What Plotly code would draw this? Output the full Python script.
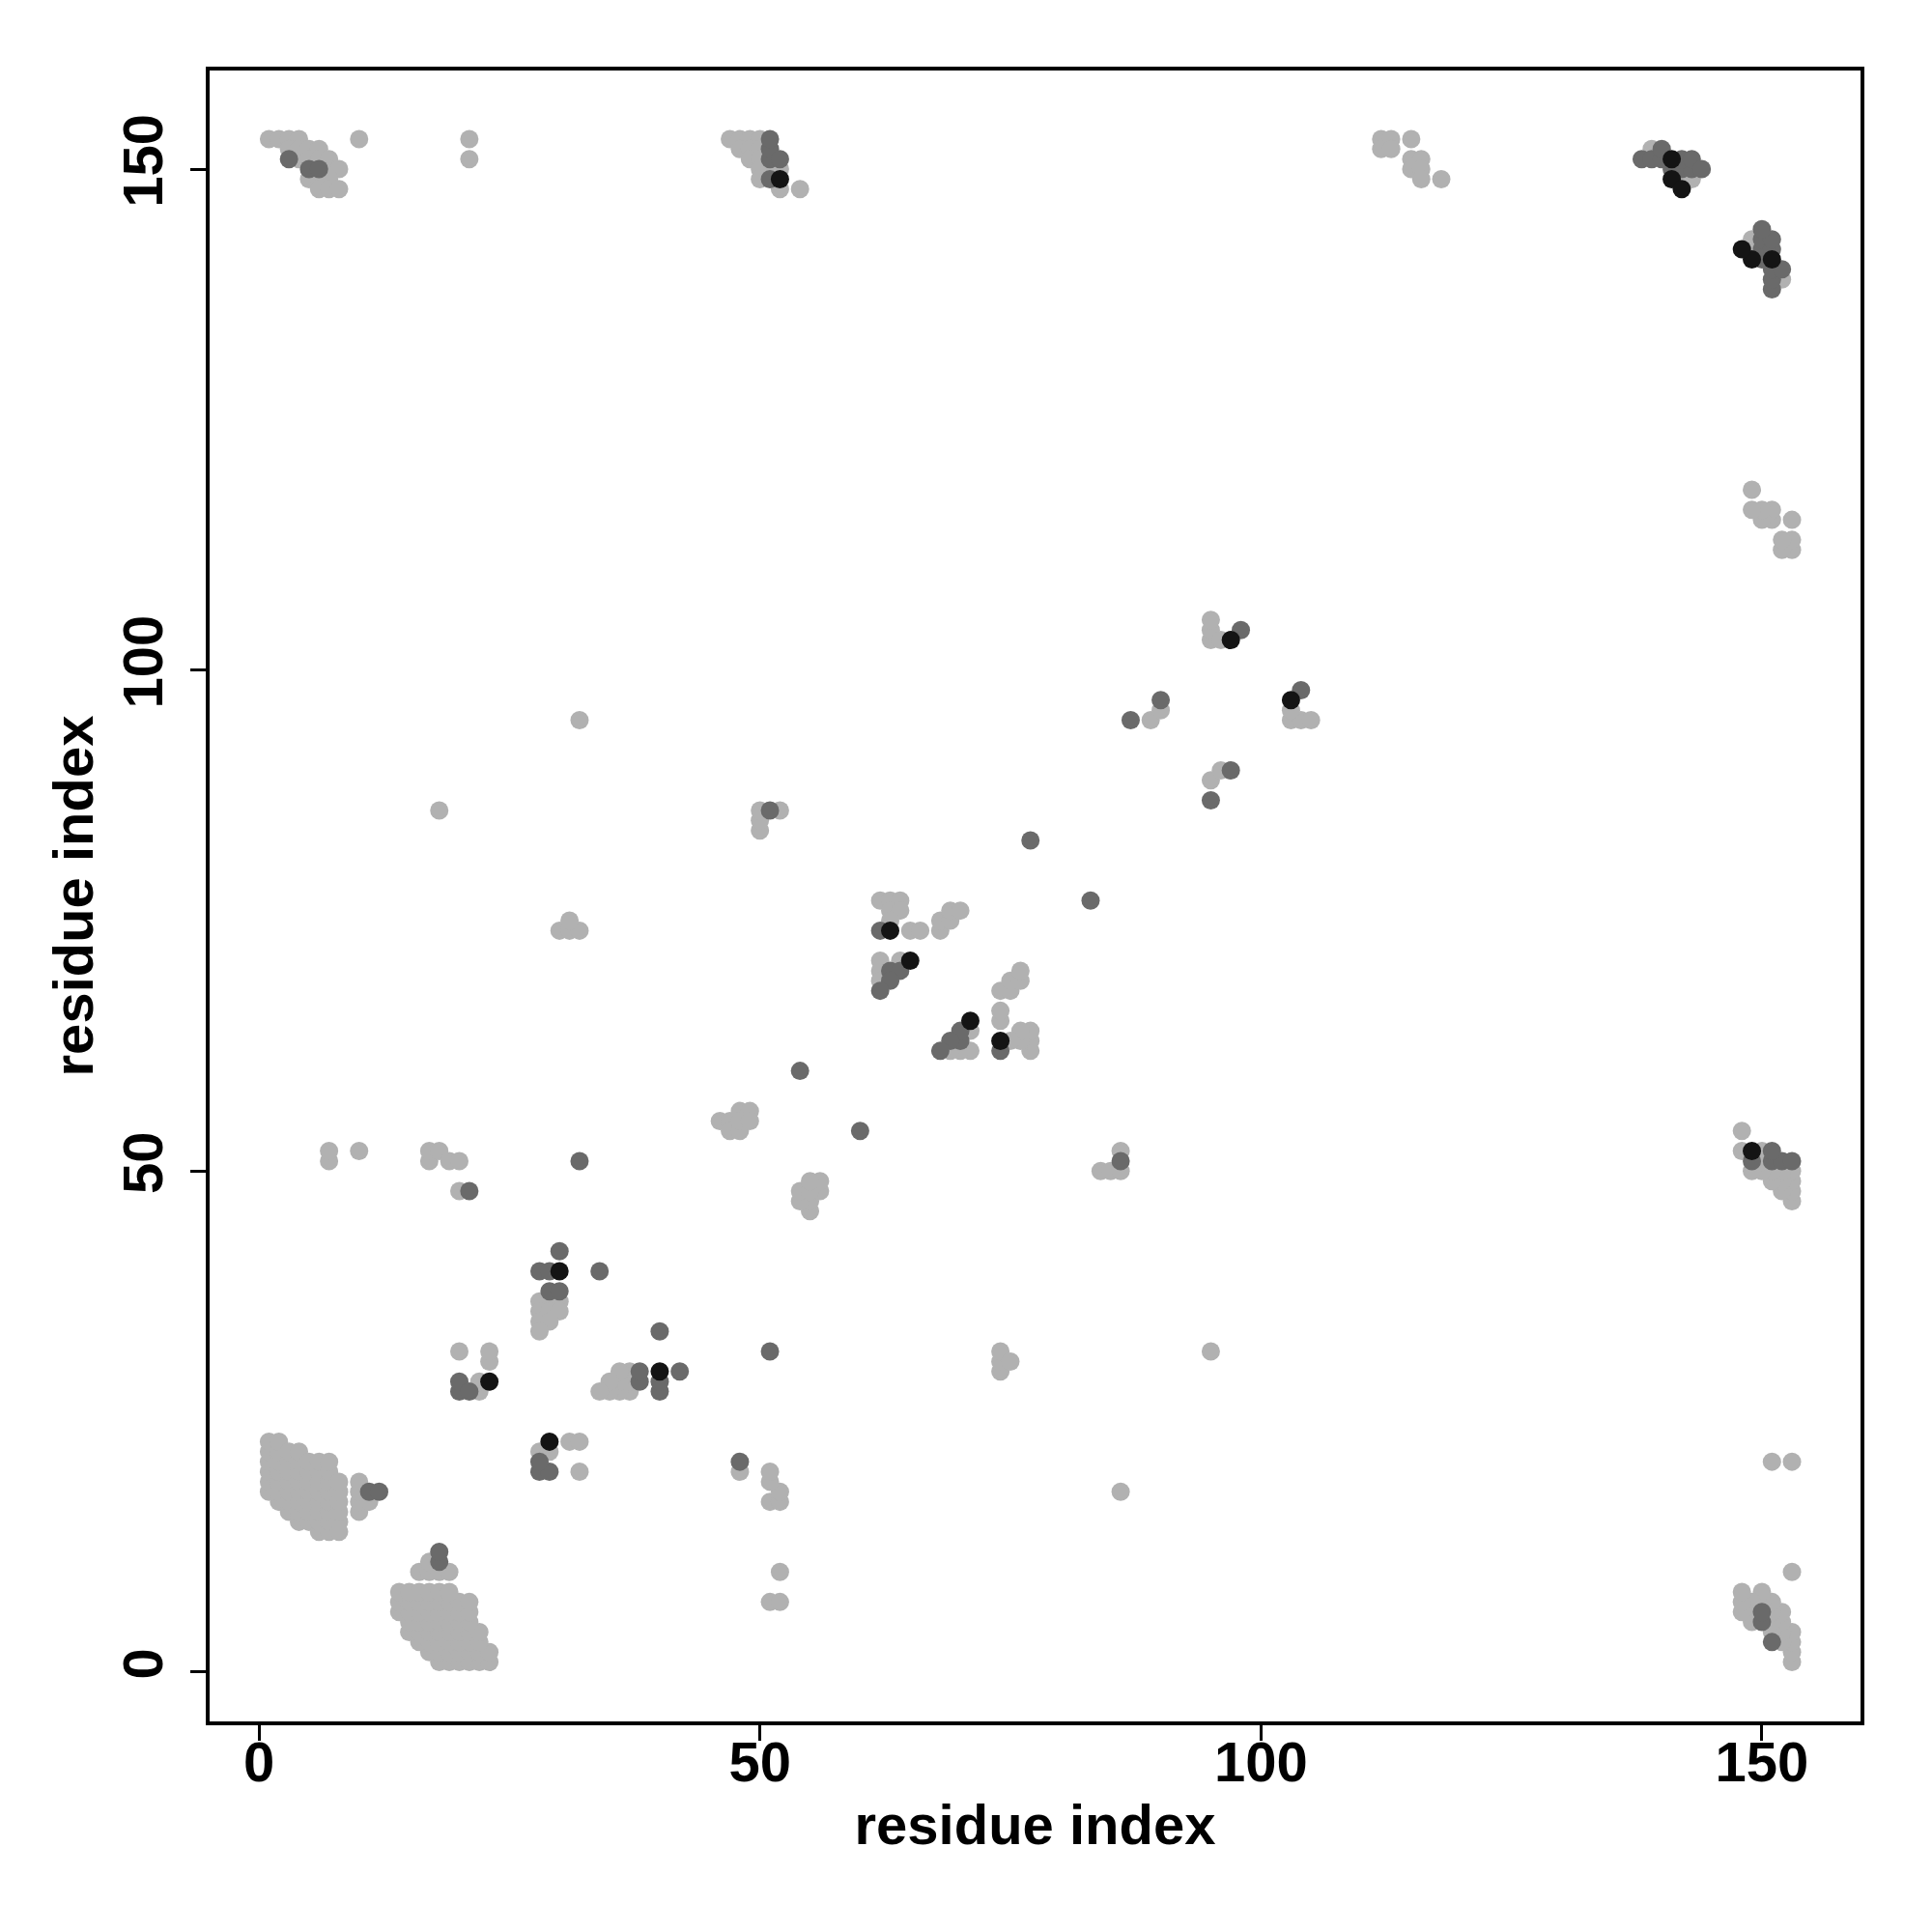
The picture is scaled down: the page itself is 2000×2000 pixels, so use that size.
import plotly.graph_objects as go

# contacts (residue a < residue b); the map is symmetric, each contact is drawn at (a,b) and (b,a)
light_pairs = [
    (1,18),(1,19),(1,20),(1,21),(1,22),(1,23),
    (2,17),(2,18),(2,19),(2,20),(2,21),(2,22),(2,23),
    (3,16),(3,17),(3,18),(3,19),(3,20),(3,21),(3,22),
    (4,15),(4,16),(4,17),(4,18),(4,19),(4,20),(4,21),(4,22),
    (5,15),(5,16),(5,17),(5,18),(5,19),(5,20),(5,21),
    (6,14),(6,15),(6,16),(6,17),(6,18),(6,19),(6,20),(6,21),
    (7,14),(7,15),(7,16),(7,17),(7,18),(7,19),(7,20),(7,21),
    (8,14),(8,15),(8,16),(8,17),(8,18),(8,19),
    (10,16),(10,17),(10,18),(10,19),(11,17),
    (1,153),(2,153),(3,153),(4,153),(3,152),(4,152),(5,152),(6,152),
    (4,151),(5,151),(6,151),(7,151),(7,150),(8,150),(5,149),(6,149),(7,149),
    (6,148),(7,148),(8,148),
    (10,153),(21,153),(21,151),
    (7,51),(7,52),(10,52),(17,51),(17,52),(18,52),(19,51),(20,51),(20,48),
    (22,28),(22,29),(23,31),(23,32),(20,32),
    (28,37),(29,37),(30,37),(28,36),(29,36),(30,36),(28,35),(29,35),(28,34),
    (46,55),(47,55),(48,56),(49,56),(47,54),(48,54),(48,55),(49,55),
    (47,153),(48,153),(49,153),(50,153),(48,152),(49,152),(50,152),(49,151),(50,151),
    (50,150),(51,150),(52,150),(50,149),(52,148),(54,148),
    (30,74),(31,74),(32,74),(31,75),
    (18,86),(32,95),
    (50,84),(50,85),(50,86),(52,86),
    (62,77),(63,77),(64,77),(63,76),(64,76),(63,75),(65,74),(66,74),(68,74),(68,75),
    (69,75),(69,76),(70,76),(62,71),(64,71),(62,70),(62,69),
    (89,95),(90,96),
    (95,103),(95,104),(95,105),(96,103),
    (112,153),(113,153),(115,153),(112,152),(113,152),(115,151),(116,151),(115,150),
    (116,150),(116,149),(118,149),
    (139,152),(142,149),(143,149),
]

dark_pairs = [
    (11,18),(12,18),(3,151),(5,150),(6,150),(21,48),(32,51),
    (20,28),(20,29),(21,28),(28,40),(29,40),(30,42),(34,40),(29,38),(30,38),
    (51,86),(54,60),(51,149),(51,151),(51,152),(51,153),(52,151),
    (62,74),(63,70),(64,70),(63,69),(62,68),
    (77,83),(87,95),(90,97),(98,104),
    (138,151),(139,151),(140,151),(140,152),(141,150),(142,150),(143,150),
    (142,151),(143,151),(144,150),
]

black_pairs = [
    (23,29),(30,40),(52,149),(63,74),(65,71),(97,103),(141,151),(141,149),(142,148),
]

shade_colors = {"light": "#b1b1b1", "dark": "#6a6a6a", "black": "#141414"}

x_ticks = [0, 50, 100, 150]
y_ticks = [0, 50, 100, 150]
axis_title = "residue index"


def symmetric(pairs):
    xs = [a for a, b in pairs] + [b for a, b in pairs]
    ys = [b for a, b in pairs] + [a for a, b in pairs]
    return xs, ys


fig = go.Figure()
for name, pairs in [("light", light_pairs), ("dark", dark_pairs), ("black", black_pairs)]:
    xs, ys = symmetric(pairs)
    fig.add_trace(go.Scatter(
        x=xs, y=ys, mode="markers",
        marker=dict(size=19, color=shade_colors[name], line=dict(width=0)),
        showlegend=False, hoverinfo="x+y",
    ))

font_family = "Liberation Sans, Arial, sans-serif"
axis_common = dict(
    range=[-4.92, 159.84],
    showgrid=False, zeroline=False,
    showline=True, linecolor="black", linewidth=4, mirror=True,
    ticks="outside", ticklen=16, tickwidth=3, tickcolor="black",
    tickfont=dict(family=font_family, size=58, color="black", weight="bold"),
)

fig.update_layout(
    width=2000, height=2000,
    margin=dict(l=209, r=82, t=65, b=226),
    paper_bgcolor="white", plot_bgcolor="white",
    xaxis=dict(**axis_common, tickvals=x_ticks, ticktext=[str(v) for v in x_ticks],
               ticklabelstandoff=-28,
               title=dict(text=axis_title, standoff=14,
                          font=dict(family=font_family, size=58, color="black", weight="bold"))),
    yaxis=dict(**axis_common, tickvals=y_ticks, ticktext=[str(v) for v in y_ticks], tickangle=-90,
               ticklabelstandoff=6,
               title=dict(text=axis_title, standoff=0,
                          font=dict(family=font_family, size=58, color="black", weight="bold"))),
)

fig.write_html("out.html")
